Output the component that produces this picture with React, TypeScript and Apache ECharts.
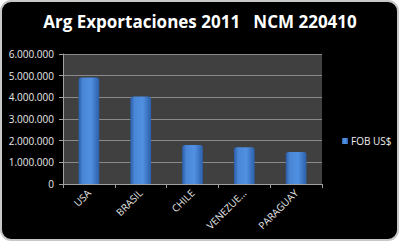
import React, { useEffect, useRef } from "react";
import * as echarts from "echarts";

const categories = ["USA", "BRASIL", "CHILE", "VENEZUE...", "PARAGUAY"];
const fobValues = [4910000, 4040000, 1800000, 1700000, 1480000];
const seriesName = "FOB US$";
const titleText = "Arg Exportaciones 2011   NCM 220410";

const fmt = (v: number) => String(v).replace(/\B(?=(\d{3})+(?!\d))/g, ".");

export default function App() {
  const ref = useRef<HTMLDivElement>(null);
  useEffect(() => {
    document.body.style.margin = "0";
    const chart = echarts.init(ref.current!, null, { renderer: "svg" });
    chart.setOption({
      animation: false,
      backgroundColor: "#ffffff",
      graphic: [
        {
          type: "rect",
          z: -10,
          shape: { x: 1, y: 1, width: 397, height: 239, r: 10 },
          style: { fill: "#000000", stroke: "#c8c8c8", lineWidth: 2 },
        },
      ],
      title: {
        text: titleText,
        left: "center",
        top: 8,
        textStyle: {
          color: "#ffffff",
          fontSize: 17,
          fontWeight: "bold",
          fontFamily: "Open Sans",
        },
      },
      legend: {
        orient: "vertical",
        left: 337,
        top: 131,
        itemWidth: 6,
        itemHeight: 6,
        itemGap: 4,
        icon: "rect",
        textStyle: { color: "#f0f0f0", fontSize: 10, fontFamily: "Open Sans", padding: [0, 0, 0, -2] },
        data: [seriesName],
      },
      grid: {
        left: 63,
        right: 78,
        top: 54,
        bottom: 58,
        show: true,
        backgroundColor: "#404040",
        borderWidth: 0,
      },
      xAxis: {
        type: "category",
        data: categories,
        axisLine: { lineStyle: { color: "#a0a0a0", width: 1 } },
        axisTick: { show: true, length: 4, lineStyle: { color: "#a0a0a0" } },
        axisLabel: {
          rotate: 45,
          color: "#eaeaea",
          fontSize: 10,
          fontFamily: "Open Sans",
          margin: 7,
          interval: 0,
        },
      },
      yAxis: {
        type: "value",
        min: 0,
        max: 6000000,
        interval: 1000000,
        axisLine: { show: true, lineStyle: { color: "#a0a0a0", width: 1 } },
        axisTick: { show: true, length: 4, lineStyle: { color: "#a0a0a0" } },
        splitLine: { lineStyle: { color: "#8a8a8a", width: 1 } },
        axisLabel: {
          color: "#eaeaea",
          fontSize: 10,
          fontFamily: "Open Sans",
          margin: 9,
          formatter: (v: number) => fmt(v),
        },
      },
      series: [
        {
          name: seriesName,
          type: "bar",
          data: fobValues,
          barWidth: "40%",
          itemStyle: {
            color: new echarts.graphic.LinearGradient(0, 0, 1, 0, [
              { offset: 0, color: "#2a5ca6" },
              { offset: 0.2, color: "#4a86d6" },
              { offset: 0.6, color: "#5090e2" },
              { offset: 1, color: "#2c5fa8" },
            ]),
            borderRadius: [3, 3, 0, 0],
          },
        },
      ],
    });
    return () => chart.dispose();
  }, []);
  return (
    <div
      ref={ref}
      style={{ position: "fixed", left: 0, top: 0, width: 400, height: 242 }}
    />
  );
}
